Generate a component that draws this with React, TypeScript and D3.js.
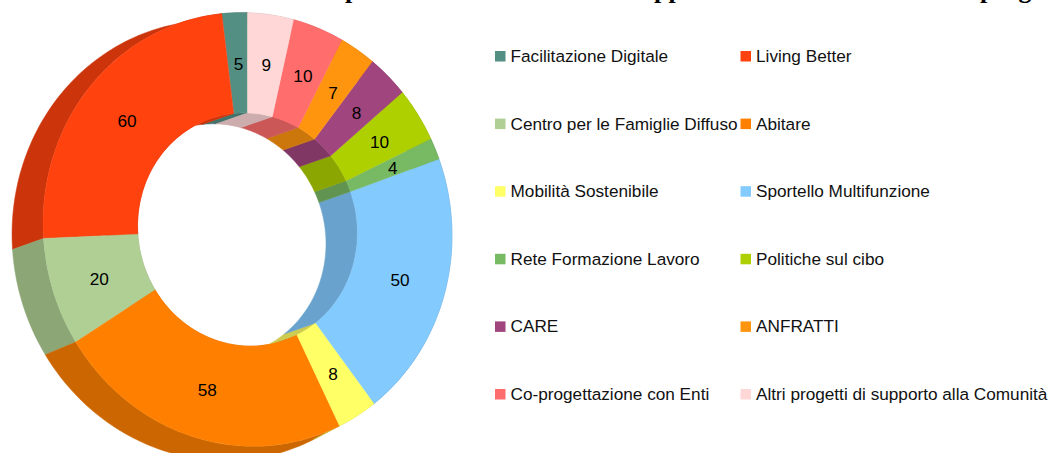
import { useMemo } from 'react'
import * as d3 from 'd3'

// slices run counter-clockwise from 12 o'clock, same order as the legend
const categories = [
  'Facilitazione Digitale',
  'Living Better',
  'Centro per le Famiglie Diffuso',
  'Abitare',
  'Mobilità Sostenibile',
  'Sportello Multifunzione',
  'Rete Formazione Lavoro',
  'Politiche sul cibo',
  'CARE',
  'ANFRATTI',
  'Co-progettazione con Enti',
  'Altri progetti di supporto alla Comunità',
]
const values = [5, 60, 20, 58, 8, 50, 4, 10, 8, 7, 10, 9]
const colors = [
  '#548f84', '#ff420e', '#afcf94', '#ff8000', '#ffff66', '#83caff',
  '#78b964', '#aecf00', '#a0457d', '#ff950e', '#ff6d6d', '#ffd7d7',
]
// only the descenders of the title are inside the frame
const titleBits = [
  { text: 'p', x: 345 },
  { text: 'pp', x: 654 },
  { text: 'prog', x: 980 },
]

const width = 1050
const height = 453
const cx = 247.5
const cy = 229.5
const rOuter = 204.5
const rInner = 110
const yScale = 1.06
const yShear = 0.03 // the tilted ring is a bit lower on its right side
const depthY = 11

const labelFont = '"Liberation Sans", Arial, sans-serif'

export default function App() {
  const slices = useMemo(() => {
    const pie = d3
      .pie<number>()
      .sort(null)
      .startAngle(0)
      .endAngle(-2 * Math.PI)
    return pie(values).map((s, i) => ({ ...s, i }))
  }, [])

  const arc = d3
    .arc<d3.PieArcDatum<number>>()
    .innerRadius(rInner)
    .outerRadius(rOuter)

  const ringPoint = (r: number, a: number): [number, number] => [
    cx + r * Math.sin(a),
    cy + yShear * r * Math.sin(a) - r * yScale * Math.cos(a),
  ]

  // side wall of one slice: the arc on the front face swept back by the depth,
  // the back ring can be a little wider than the front one
  const wall = (r: number, a0: number, a1: number, depthX: number, grow: number) => {
    const n = Math.max(4, Math.ceil(Math.abs(a1 - a0) * 40))
    const angles = d3.range(n + 1).map((k) => a0 + ((a1 - a0) * k) / n)
    const front = angles.map((a) => ringPoint(r, a))
    const back = angles
      .slice()
      .reverse()
      .map((a) => {
        const [x, y] = ringPoint(r * grow, a)
        return [x + depthX, y + depthY] as [number, number]
      })
    return d3.line()([...front, ...back]) + 'Z'
  }

  const legendX = d3.scaleOrdinal<number, number>().domain([0, 1]).range([495, 740.5])
  const legendY = d3
    .scalePoint<number>()
    .domain(d3.range(6))
    .range([56, 394])

  return (
    <svg
      width={width}
      height={height}
      viewBox={`0 0 ${width} ${height}`}
      style={{ position: 'absolute', left: 0, top: 0, background: '#fff' }}
    >
      {titleBits.map((t, i) => (
        <text
          key={i}
          x={t.x}
          y={-2}
          fontFamily='"Liberation Serif", serif'
          fontWeight="bold"
          fontSize={26}
          fill="#000"
        >
          {t.text}
        </text>
      ))}

      {slices.map((s) => {
        const dark = d3.rgb(colors[s.i]).darker(0.626).formatHex()
        return (
          <g key={`wall-${s.i}`} fill={dark} stroke={dark} strokeWidth={0.5}>
            <path d={wall(rOuter, s.startAngle, s.endAngle, -27.9, 1.015)} />
            <path d={wall(rInner, s.startAngle, s.endAngle, -31.5, 1)} />
          </g>
        )
      })}

      <g transform={`matrix(1,${yShear},0,${yScale},${cx},${cy})`}>
        {slices.map((s) => (
          <path
            key={`face-${s.i}`}
            d={arc(s) as string}
            fill={colors[s.i]}
            stroke={colors[s.i]}
            strokeWidth={0.4}
          />
        ))}
      </g>

      <g fontFamily={labelFont} fontSize={17.2} fill="#000" textAnchor="middle">
        {slices.map((s) => {
          const mid = (s.startAngle + s.endAngle) / 2
          const [x, y] = ringPoint((rInner + rOuter) / 2, mid)
          return (
            <text key={`label-${s.i}`} x={x + 1} y={y + 1} dy="0.35em">
              {s.data}
            </text>
          )
        })}
      </g>

      <g fontFamily={labelFont} fontSize={17.2} fill="#111">
        {categories.map((c, i) => {
          const x = legendX(i % 2)
          const y = legendY(Math.floor(i / 2)) as number
          return (
            <g key={c}>
              <rect x={x} y={y - 5} width={10.5} height={10.5} fill={colors[i]} />
              <text x={x + 15.5} y={y} dy="0.35em">
                {c}
              </text>
            </g>
          )
        })}
      </g>
    </svg>
  )
}
